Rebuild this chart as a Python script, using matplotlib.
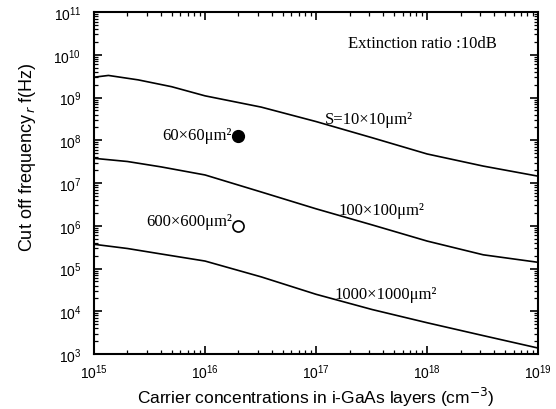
import matplotlib
matplotlib.use("Agg")
import matplotlib.pyplot as plt
import numpy as np

# carrier concentration (cm^-3) and cut-off frequency (Hz)
n_10 = [1.0e15, 1.35e15, 2.5e15, 5.0e15, 1.0e16, 3.2e16, 1.0e17, 3.2e17, 1.0e18, 3.2e18, 1.0e19]
f_10 = [3.0e9, 3.3e9, 2.6e9, 1.8e9, 1.1e9, 6.0e8, 2.75e8, 1.15e8, 4.8e7, 2.5e7, 1.45e7]

n_100 = [1.0e15, 2.0e15, 4.0e15, 1.0e16, 3.2e16, 1.0e17, 3.2e17, 1.0e18, 3.2e18, 1.0e19]
f_100 = [3.8e7, 3.2e7, 2.4e7, 1.55e7, 6.2e6, 2.5e6, 1.05e6, 4.4e5, 2.1e5, 1.4e5]

n_1000 = [1.0e15, 2.0e15, 4.0e15, 1.0e16, 3.2e16, 1.0e17, 3.2e17, 1.0e18, 3.2e18, 1.0e19]
f_1000 = [3.7e5, 2.95e5, 2.2e5, 1.5e5, 6.4e4, 2.5e4, 1.1e4, 5.4e3, 2.7e3, 1.38e3]

# measured points
n_meas = [2.0e16, 2.0e16]
f_meas = [1.26e8, 1.0e6]

serif = "Liberation Serif"
sans = "Liberation Sans"

fig = plt.figure(figsize=(5.56, 4.10), dpi=100)
ax = fig.add_axes([0.169, 0.134, 0.799, 0.834])

for n, f in [(n_10, f_10), (n_100, f_100), (n_1000, f_1000)]:
    ax.plot(n, f, color="black", lw=1.2)

ax.plot(n_meas[0], f_meas[0], "o", color="black", ms=8.5)
ax.plot(n_meas[1], f_meas[1], "o", mfc="white", mec="black", mew=1.2, ms=8)

ax.set_xscale("log")
ax.set_yscale("log")
ax.set_xlim(1e15, 1e19)
ax.set_ylim(1e3, 1e11)
ax.set_xticks([1e15, 1e16, 1e17, 1e18, 1e19])
ax.set_yticks([10.0 ** k for k in range(3, 12)])
ax.yaxis.set_minor_locator(matplotlib.ticker.LogLocator(base=10, subs=np.arange(2, 10), numticks=20))
ax.xaxis.set_minor_locator(matplotlib.ticker.LogLocator(base=10, subs=np.arange(2, 10), numticks=20))
ax.tick_params(which="both", direction="in", top=True, right=True)
ax.tick_params(which="major", length=6, width=1.2)
ax.tick_params(which="minor", length=3, width=0.9)
for s in ax.spines.values():
    s.set_linewidth(1.5)
for t in ax.get_xticklabels() + ax.get_yticklabels():
    t.set_fontname(sans)
    t.set_fontsize(10)
ax.tick_params(axis="x", pad=6)
ax.tick_params(axis="y", pad=9)

ax.set_xlabel("Carrier concentrations in i-GaAs layers (cm$^{-3}$)", fontname=sans, fontsize=12.5)
ax.xaxis.set_label_coords(0.5, -0.09)
ax.set_ylabel("Cut off frequency$_{\\,r}$ f(Hz)", fontname=sans, fontsize=13)
ax.yaxis.set_label_coords(-0.125, 0.58)

ax.text(0.906, 0.909, "Extinction ratio :10dB", transform=ax.transAxes, ha="right", va="center",
        fontname=serif, fontsize=12)
ax.text(1.2e17, 3.2e8, "S=10×10μm²", ha="left", va="center", fontname=serif, fontsize=12)
ax.text(1.6e17, 2.3e6, "100×100μm²", ha="left", va="center", fontname=serif, fontsize=12)
ax.text(1.45e17, 2.5e4, "1000×1000μm²", ha="left", va="center", fontname=serif, fontsize=12)
ax.text(1.75e16, 1.3e8, "60×60μm²", ha="right", va="center", fontname=serif, fontsize=12)
ax.text(1.75e16, 1.3e6, "600×600μm²", ha="right", va="center", fontname=serif, fontsize=12)

fig.savefig("out.png", dpi=100)
